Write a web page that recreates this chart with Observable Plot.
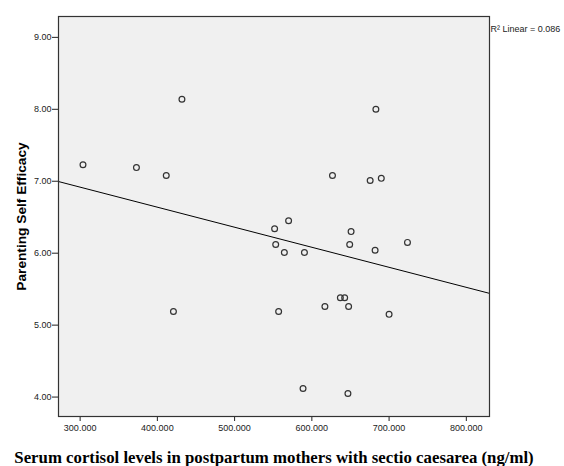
<!DOCTYPE html>
<html>
<head>
<meta charset="utf-8">
<script src="https://cdn.jsdelivr.net/npm/d3@7"></script>
<script src="https://cdn.jsdelivr.net/npm/@observablehq/plot@0.6"></script>
<style>
  html, body { margin: 0; padding: 0; background: #fff; }
  #chart svg { display: block; }
  #chart g[aria-label="x-axis label"] text {
    font-family: "Liberation Serif", "Times New Roman", serif;
    font-weight: bold; font-size: 16.8px; fill: #000;
  }
  #chart g[aria-label="y-axis label"] text {
    font-family: "Liberation Sans", Arial, sans-serif;
    font-weight: bold; font-size: 13.7px; fill: #000;
  }
</style>
</head>
<body>
<div id="chart"></div>
<script>
// Serum cortisol (ng/ml)
const cortisol = [431.8, 682.9, 303.7, 372.9, 411.5, 626.7, 675.5, 689.9, 569.9, 551.8,
  650.8, 553.2, 649.0, 723.8, 564.4, 590.4, 681.9, 636.9, 642.5, 616.9,
  647.6, 420.8, 557.0, 700.0, 588.6, 646.7];
// Parenting Self Efficacy
const efficacy = [8.14, 8.00, 7.23, 7.19, 7.08, 7.08, 7.01, 7.04, 6.45, 6.34,
  6.30, 6.12, 6.12, 6.15, 6.01, 6.01, 6.04, 5.38, 5.38, 5.26,
  5.26, 5.19, 5.19, 5.15, 4.12, 4.05];
const xTicks = [300, 400, 500, 600, 700, 800];
const yTicks = [4, 5, 6, 7, 8, 9];
const xDomain = [272, 830];
const yDomain = [3.73, 9.29];
const r2Label = "R\u00B2 Linear = 0.086";

const points = cortisol.map((c, i) => ({x: c, y: efficacy[i]}));

// least-squares fit line across the full x range
const mx = d3.mean(cortisol), my = d3.mean(efficacy);
const slope = d3.sum(points, p => (p.x - mx) * (p.y - my)) / d3.sum(points, p => (p.x - mx) ** 2);
const intercept = my - slope * mx;
const fit = xDomain.map(x => ({x, y: intercept + slope * x}));

const plot = Plot.plot({
  width: 564,
  height: 466,
  marginLeft: 58,
  marginRight: 75,
  marginTop: 16,
  marginBottom: 50,
  style: {fontFamily: "'Liberation Sans', Arial, sans-serif", fontSize: "9px", color: "#222", background: "#fff"},
  x: {domain: xDomain},
  y: {domain: yDomain},
  marks: [
    Plot.frame({fill: "#f0f0f0"}),
    Plot.axisY({ticks: yTicks, tickFormat: d3.format(".2f"), tickSize: 6, tickPadding: 1, fontSize: 9,
      label: "Parenting Self Efficacy", labelAnchor: "center", labelArrow: false, labelOffset: 42}),
    Plot.axisX({ticks: xTicks, tickFormat: d3.format(".3f"), tickSize: 5, tickPadding: 3, fontSize: 9,
      label: "Serum cortisol levels in postpartum mothers with sectio caesarea (ng/ml)",
      labelAnchor: "center", labelArrow: false, labelOffset: 46}),
    Plot.line(fit, {x: "x", y: "y", stroke: "#000", strokeWidth: 1}),
    Plot.dot(points, {x: "x", y: "y", r: 2.9, stroke: "#333", strokeWidth: 1.2, fill: "none"}),
    Plot.frame({stroke: "#333", strokeWidth: 1.2}),
    Plot.text([r2Label], {frameAnchor: "top-right", text: d => d, textAnchor: "start", dx: 1, dy: 9, fontSize: 9, fill: "#222"})
  ]
});
document.getElementById("chart").appendChild(plot);
</script>
</body>
</html>
